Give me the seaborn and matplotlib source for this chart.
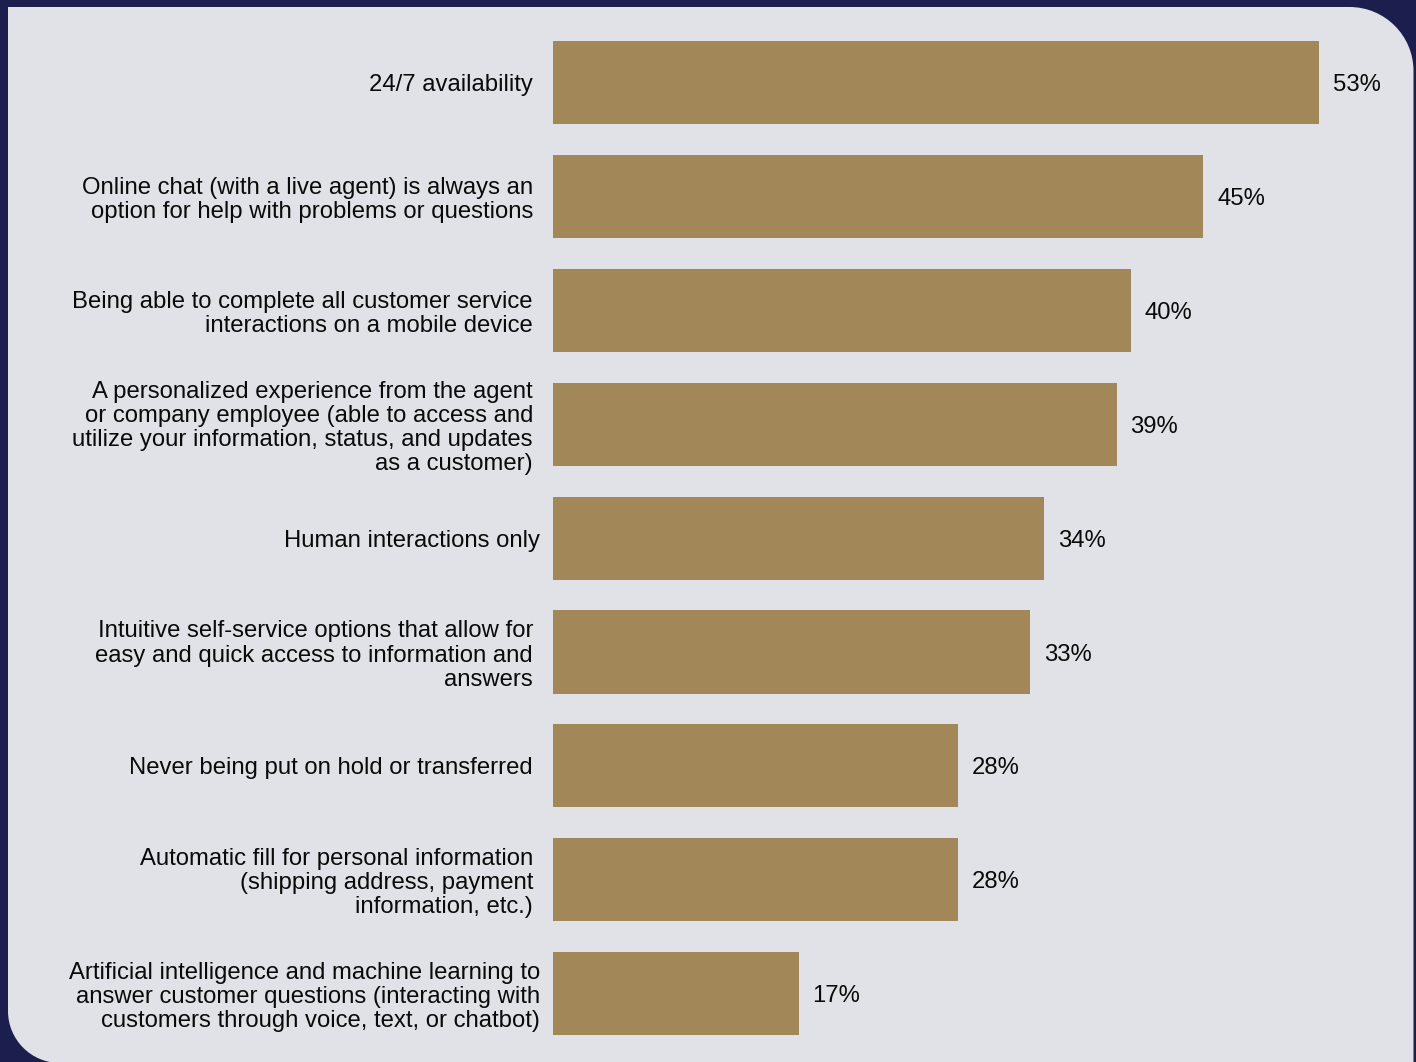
import matplotlib
matplotlib.use("Agg")
import matplotlib.pyplot as plt
from matplotlib.path import Path
from matplotlib.patches import PathPatch
from matplotlib.transforms import IdentityTransform
import seaborn as sns
import pandas as pd

categories = [
    "24/7 availability",
    "Online chat (with a live agent) is always an\noption for help with problems or questions",
    "Being able to complete all customer service\ninteractions on a mobile device",
    "A personalized experience from the agent\nor company employee (able to access and\nutilize your information, status, and updates\nas a customer)",
    "Human interactions only",
    "Intuitive self-service options that allow for\neasy and quick access to information and\nanswers",
    "Never being put on hold or transferred",
    "Automatic fill for personal information\n(shipping address, payment\ninformation, etc.)",
    "Artificial intelligence and machine learning to\nanswer customer questions (interacting with\ncustomers through voice, text, or chatbot)",
]
values = [53, 45, 40, 39, 34, 33, 28, 28, 17]
value_labels = [f"{v}%" for v in values]

NAVY = "#1c1f4e"
PANEL = "#e1e2e7"
BAR = "#a28859"

W, H = 1416, 1062
DPI = 100

sns.set_theme(style="white")
plt.rcParams["font.family"] = ["Liberation Sans", "DejaVu Sans"]

fig = plt.figure(figsize=(W / DPI, H / DPI), dpi=DPI, facecolor=NAVY)

# light panel with rounded top-right and bottom-left corners (pixel coords)
def panel_path(x0, y0, x1, y1, r_tr, r_bl):
    k = 0.5523
    verts = [
        (x0, y1),
        (x1 - r_tr, y1),
        (x1 - r_tr + k * r_tr, y1), (x1, y1 - r_tr + k * r_tr), (x1, y1 - r_tr),
        (x1, y0),
        (x0 + r_bl, y0),
        (x0 + r_bl - k * r_bl, y0), (x0, y0 + r_bl - k * r_bl), (x0, y0 + r_bl),
        (x0, y1),
    ]
    codes = [Path.MOVETO, Path.LINETO,
             Path.CURVE4, Path.CURVE4, Path.CURVE4,
             Path.LINETO, Path.LINETO,
             Path.CURVE4, Path.CURVE4, Path.CURVE4,
             Path.CLOSEPOLY]
    return Path(verts, codes)

fig.patches.append(PathPatch(panel_path(8, -1, 1413.5, H - 7, 64, 52),
                             facecolor=PANEL, edgecolor="none",
                             transform=IdentityTransform(), zorder=-10))

# axes placement
ax_left, ax_right = 553, 1400
ax_top, ax_bottom = 25.5, 1050.7
ax = fig.add_axes([ax_left / W, 1 - ax_bottom / H,
                   (ax_right - ax_left) / W, (ax_bottom - ax_top) / H])
ax.set_facecolor("none")
ax.set_zorder(5)

df = pd.DataFrame({"category": categories, "value": values})
sns.barplot(data=df, x="value", y="category", orient="h", color=BAR,
            saturation=1, width=0.73, linewidth=0, ax=ax)

ax.set_xlim(0, (ax_right - ax_left) / 14.45)
ax.set_ylim(len(categories) - 0.5, -0.5)
ax.set_xlabel("")
ax.set_ylabel("")
ax.set_xticks([])
for s in ax.spines.values():
    s.set_visible(False)

ax.tick_params(axis="y", length=0, labelsize=17.2, pad=14.4)
for lbl in ax.get_yticklabels():
    lbl.set_linespacing(1.12)
    lbl.set_color("#0a0a0a")
ticks = ax.yaxis.get_major_ticks()
for i in (4, 8):
    ticks[i].set_pad(9.4)

texts = ax.bar_label(ax.containers[0], labels=value_labels, padding=10,
                     fontsize=17.2, color="#0a0a0a")
for t in texts:
    t.set_va("center_baseline")

fig.savefig("out.png", dpi=DPI, facecolor=NAVY)
